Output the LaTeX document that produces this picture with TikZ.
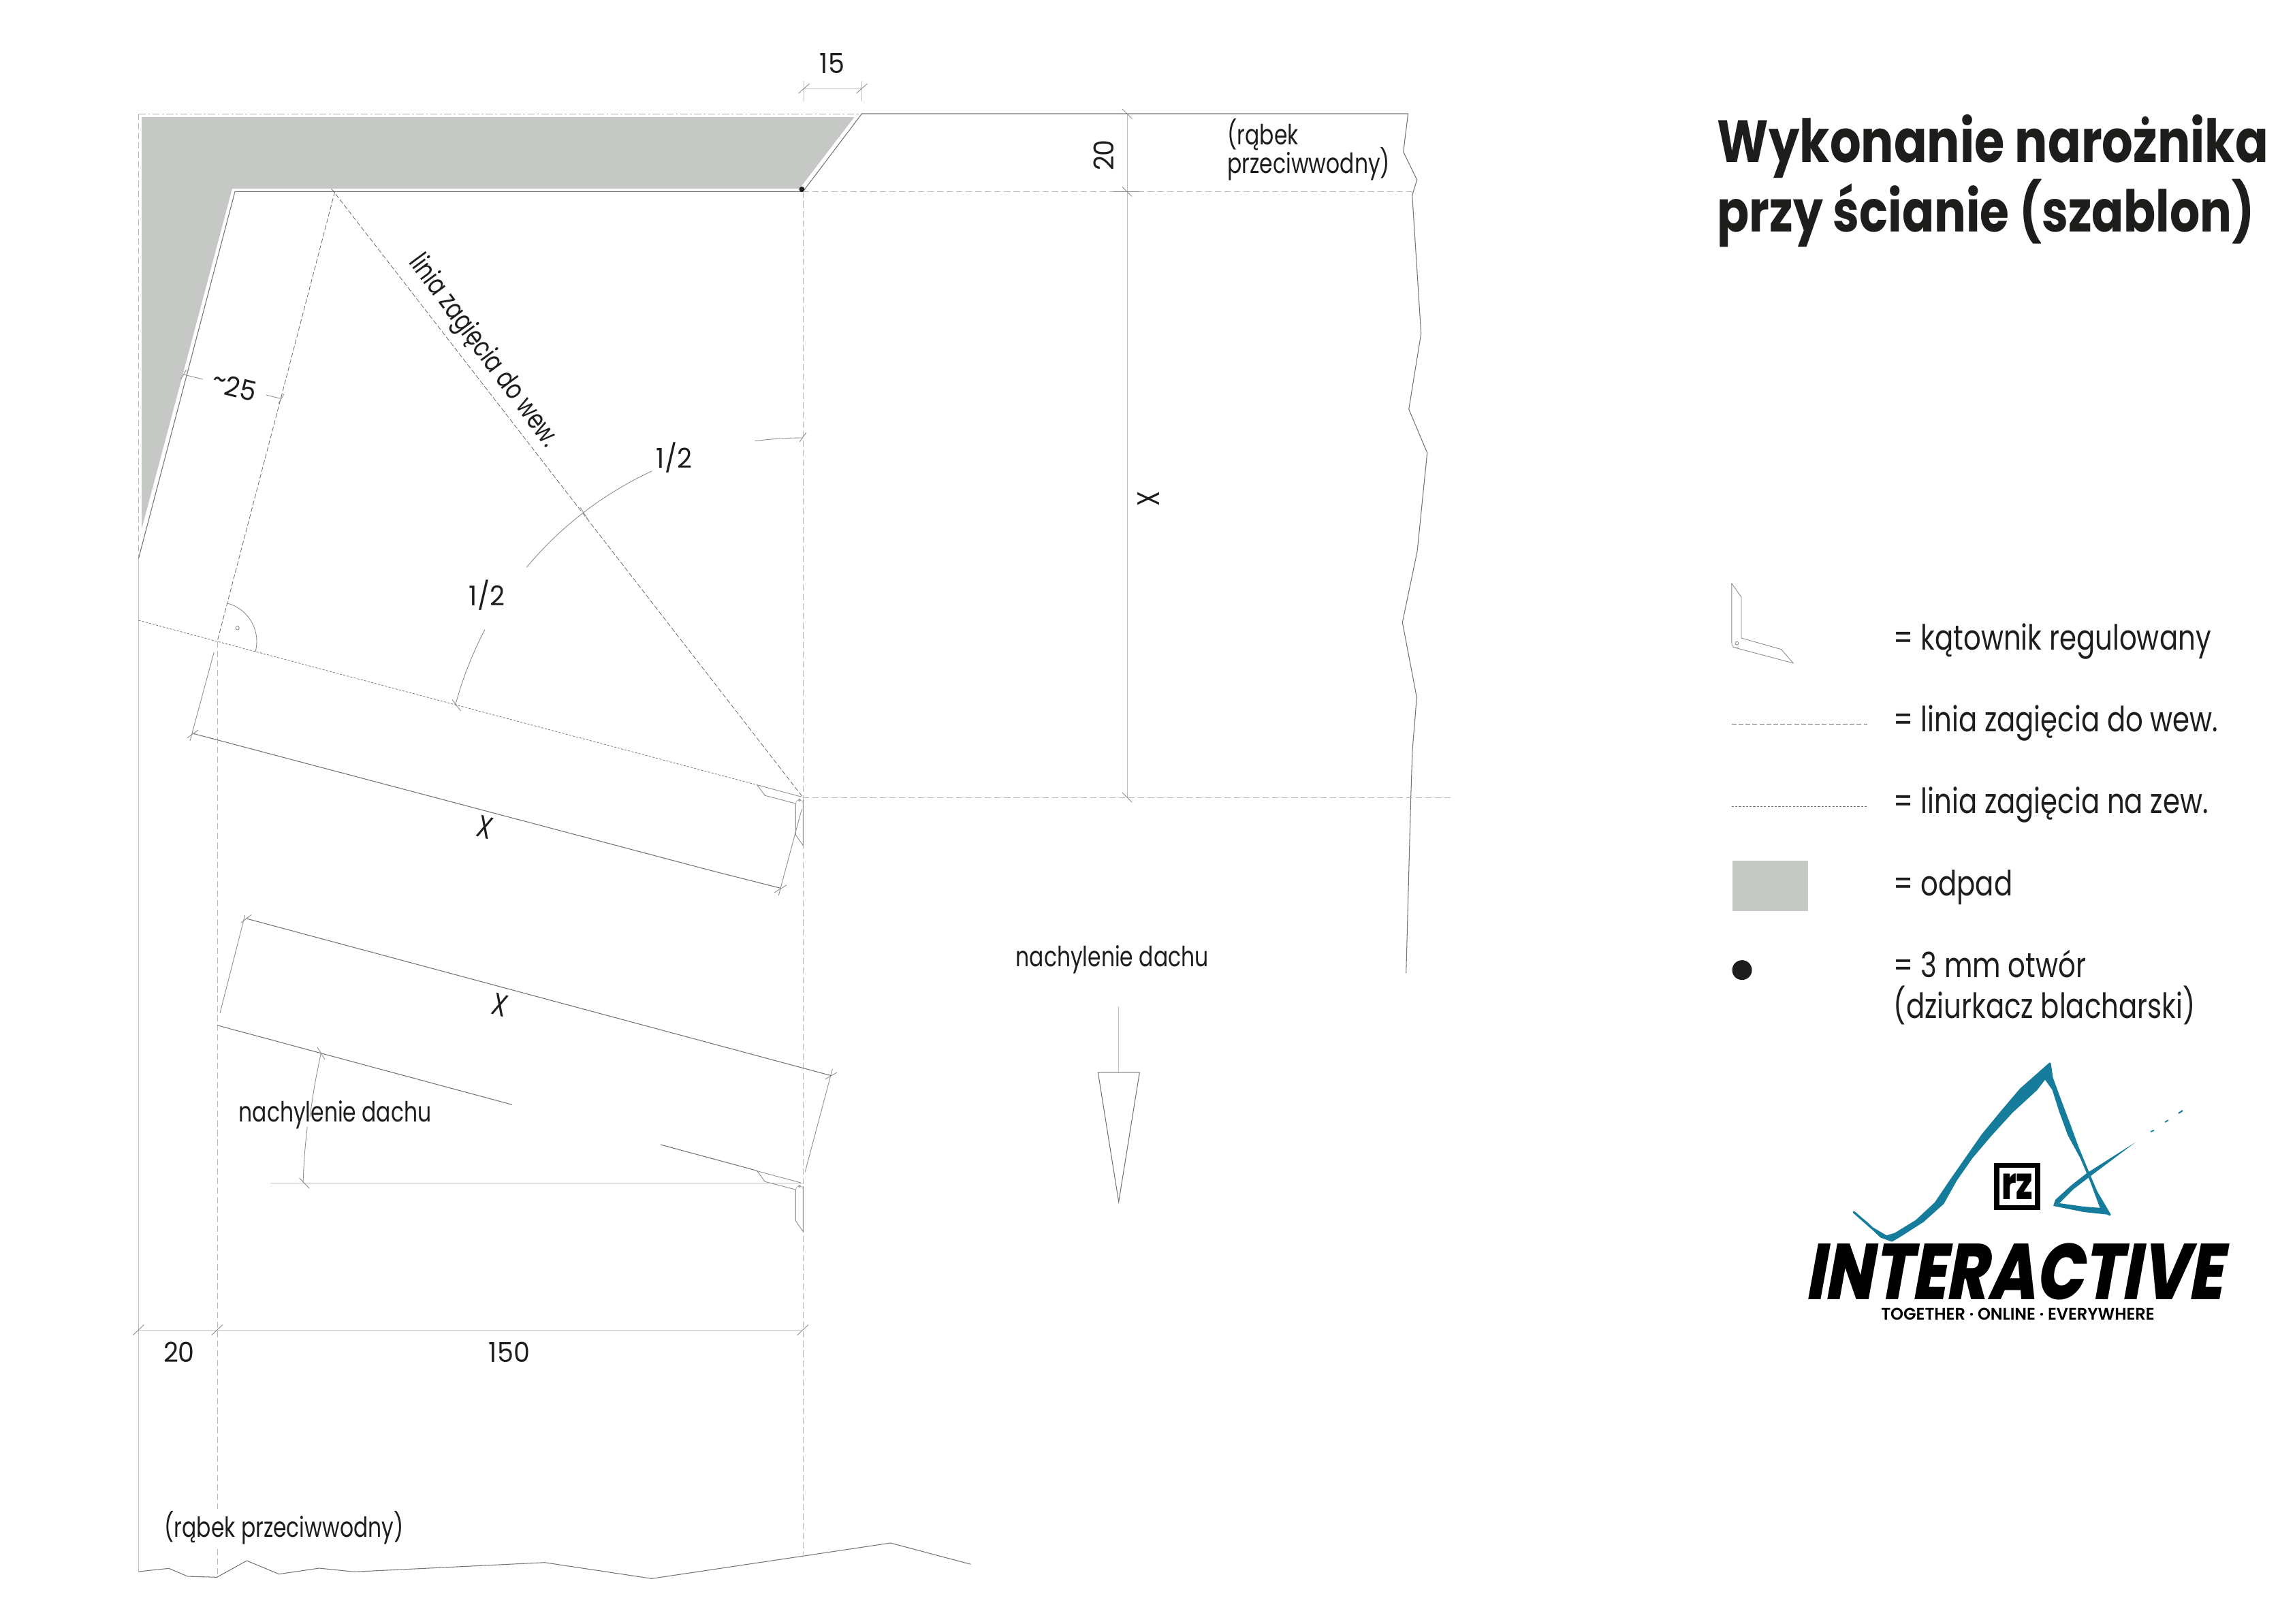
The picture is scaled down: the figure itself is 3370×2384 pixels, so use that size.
\documentclass[tikz,border=0pt]{standalone}
\usepackage{fontspec}
\usepackage{tikz}
\setmainfont{Poppins}
\newfontfamily\labelFont[FakeStretch=0.77]{Poppins}
\newfontfamily\legendFont[FakeStretch=0.79]{Poppins}
\newfontfamily\digitFont[FakeStretch=0.95]{Poppins}
\newfontfamily\titleFont[FakeStretch=0.82]{Poppins Bold}
\newfontfamily\logoFont[FakeStretch=0.8,FakeSlant=0.18]{Poppins ExtraBold}
\newfontfamily\boxFont[FakeStretch=0.72]{Poppins ExtraBold}
\newfontfamily\tagFont[FakeStretch=0.98]{Poppins SemiBold}
\definecolor{wasteGrey}{HTML}{C6C8C6}
\definecolor{inkBlack}{HTML}{1D1D1B}
\definecolor{logoTeal}{HTML}{167C9B}
\tikzstyle{cutLine}=[line width = 0.3pt, draw = black!55]
\tikzstyle{thinLine}=[line width = 0.25pt, draw = black!45]
\tikzstyle{paleLine}=[line width = 0.25pt, draw = black!25]
\tikzstyle{foldIn}=[line width = 0.22pt, draw = black!60, dash pattern = on 2pt off 0.9pt]
\tikzstyle{foldOut}=[line width = 0.22pt, draw = black!55, dash pattern = on 0.9pt off 0.6pt]
\tikzstyle{guideLine}=[line width = 0.22pt, draw = black!28, dash pattern = on 2.6pt off 1.4pt]
\tikzstyle{frameLine}=[line width = 0.25pt, draw = black!35, dash pattern = on 3pt off 1pt on 0.8pt off 1pt]
\tikzstyle{smallText}=[inner sep = 0pt, text = inkBlack, font = \labelFont\fontsize{11.6}{12}\selectfont]
\tikzstyle{digitText}=[inner sep = 0pt, text = inkBlack, font = \digitFont\fontsize{11.4}{12}\selectfont]
\tikzstyle{crossText}=[inner sep = 0pt, text = inkBlack, font = \labelFont\fontsize{13}{14}\selectfont]
\tikzstyle{legendText}=[inner sep = 0pt, anchor = base west, text = inkBlack, font = \legendFont\fontsize{14.5}{15}\selectfont]
\tikzstyle{titleText}=[inner sep = 0pt, anchor = base west, text = inkBlack]
\tikzstyle{logoStroke}=[fill = logoTeal, draw = logoTeal, line width = 0.9pt, line join = round]
\newcommand{\drawBevel}[2]{
\draw[thinLine] (#1,#2) ++(-62.3,-22.3) -- ++(64.3,17.3);
\draw[thinLine] (#1,#2) ++(-62.3,-22.3) -- ++(11.6,15.6) -- ++(45,11.7) -- ++(0,46) -- ++(11,15.7) -- ++(0,-66.7);
\draw[paleLine] (#1,#2) ++(-5.7,5) arc[start angle = 180, end angle = 360, radius = 5.5];
\draw[thinLine] (#1,#2) circle[radius = 1.6];
}
\begin{document}
\begin{tikzpicture}[x = 0.01cm, y = -0.01cm]
\useasboundingbox (0,0) rectangle (3370,2384);
\coordinate (c0) at (203.5,167);
\coordinate (c1) at (1265.5,167);
\coordinate (c2) at (2067.6,167);
\coordinate (c3) at (1179,281.4);
\coordinate (c4) at (345,281.4);
\coordinate (c5) at (203.5,820);
\coordinate (c6) at (491.7,281.4);
\coordinate (c7) at (319,942);
\coordinate (c8) at (1179,1171);
\coordinate (c9) at (203.5,911);
\coordinate (c10) at (203.5,2308);
\coordinate (c11) at (319,2216);
\coordinate (c12) at (319,2275);
\coordinate (c13) at (319,2316);
\coordinate (c14) at (1179,2283);
\coordinate (c15) at (2075,281.4);
\coordinate (c16) at (2130,1171);
\coordinate (d0) at (1180.6,130);
\coordinate (d1) at (1265.5,130);
\coordinate (d2) at (1655,167);
\coordinate (d3) at (1655,281.4);
\coordinate (d4) at (1655,1171);
\coordinate (d5) at (203.5,1953);
\coordinate (d6) at (319,1953);
\coordinate (d7) at (1179,1953);
\coordinate (d8) at (269.5,550);
\coordinate (d9) at (413,585.5);
\coordinate (d10) at (282.7,1077);
\coordinate (d11) at (1146,1304.3);
\coordinate (d12) at (362,1349);
\coordinate (d13) at (1220,1579.5);
\coordinate (d14) at (471.3,1546.7);
\coordinate (d15) at (445,1736.7);
\coordinate (a0) at (1642.5,1478);
\coordinate (a1) at (1642.5,1575);
\fill[wasteGrey] (208,172) -- (1254.4,172) -- (1174,277) -- (341,277) -- (208,777) -- cycle;
\draw[frameLine] (c0) -- (c1);
\draw[guideLine] (c0) -- (c5);
\draw[paleLine] (c5) -- (c10);
\draw[cutLine] (c5) -- (c4) -- (c3) -- (c1) -- (c2);
\draw[cutLine] (c2) -- (2060.7,223) -- (2080.6,264) -- (2073.7,287) -- (2086.7,490) -- (2068.7,601) -- (2095.7,665) -- (2081,810) -- (2059.3,914) -- (2080.3,1024) -- (2074,1101.5) -- (2071.7,1170) -- (2064.7,1429);
\draw[cutLine] (c10) -- (248,2303.3) -- (275.4,2315) -- (318.5,2316.3) -- (362.4,2292) -- (409.7,2311.7) -- (468.6,2303) -- (520,2308.3) -- (800,2294.7) -- (957,2318.3) -- (1307.7,2266) -- (1425.5,2297.3);
\fill[inkBlack] (1177.5,278) circle[radius = 4];
\draw[foldIn] (c6) -- (c7);
\draw[foldIn] (486.6,277) -- (c8);
\draw[foldOut] (c9) -- (c7) -- (1111.7,1152.7);
\draw[guideLine] (c7) -- (c11);
\draw[guideLine] (c12) -- (c13);
\draw[guideLine] (c3) -- (c14);
\draw[guideLine] (c3) -- (c15);
\draw[guideLine] (c8) -- (c16);
\draw[paleLine] (1180.6,119) -- (1180.6,149);
\draw[paleLine] (1265.5,119) -- (1265.5,149);
\draw[paleLine] (d0) -- (d1);
\draw[thinLine] (d0) ++(-8,7) -- ++(16,-14);
\draw[thinLine] (d1) ++(-8,7) -- ++(16,-14);
\draw[paleLine] (d2) -- (d4);
\draw[thinLine] (d2) ++(-7,-7) -- ++(14,14);
\draw[thinLine] (d3) ++(-7,-7) -- ++(14,14);
\draw[thinLine] (d4) ++(-7,-7) -- ++(14,14);
\draw[thinLine] (1635,281.4) -- (1673,281.4);
\draw[paleLine] (d5) -- (d7);
\draw[thinLine] (d5) ++(-8,7.5) -- ++(16,-15);
\draw[thinLine] (d6) ++(-8,7.5) -- ++(16,-15);
\draw[thinLine] (d7) ++(-8,7.5) -- ++(16,-15);
\draw[thinLine] (d8) -- ++(28,6.9);
\draw[thinLine] (d9) -- ++(-22,-5.4);
\draw[thinLine] (d8) ++(-4,7) -- ++(8,-14);
\draw[thinLine] (d9) ++(-4,7) -- ++(8,-14);
\draw[cutLine] (d10) -- (1050,1280) -- (d11);
\draw[thinLine] (d10) ++(-8,7) -- ++(16.5,-12);
\draw[thinLine] (d11) ++(-9,6.5) -- ++(18,-11);
\draw[thinLine] (314.2,958) -- (279,1088);
\draw[thinLine] (1177.3,1188.3) -- (1143.3,1315);
\draw[cutLine] (d12) -- (d13);
\draw[thinLine] (d12) ++(-8,6) -- ++(15.2,-11.7);
\draw[thinLine] (d13) ++(-8.5,5.5) -- ++(17.5,-10);
\draw[thinLine] (359.7,1344) -- (323,1487.8);
\draw[thinLine] (1222.3,1570) -- (1182.3,1720.7);
\draw[cutLine] (319,1505.7) -- (752,1622.3);
\draw[cutLine] (970,1681) -- (1111.7,1719.3);
\draw[paleLine] (397,1737.3) -- (1179,1737.3);
\draw[thinLine] (d14) .. controls (462,1592) .. (455,1640);
\draw[thinLine] (451.2,1655) .. controls (447,1695) .. (d15);
\draw[thinLine] (466,1538) -- (477,1555.7);
\draw[thinLine] (439.7,1730) -- (454,1745);
\draw[thinLine] (c8) ++(-97.7:528) arc[start angle = -97.7, end angle = -90, radius = 528];
\draw[thinLine] (c8) ++(-114.8:528) arc[start angle = -114.8, end angle = -140.2, radius = 528];
\draw[thinLine] (c8) ++(-152.2:528) arc[start angle = -152.2, end angle = -165.2, radius = 528];
\draw[thinLine] (1174,649) -- (1184,635);
\draw[thinLine] (852,745) -- (864,764);
\draw[thinLine] (664,1027.5) -- (676.5,1044);
\draw[thinLine] (c7) ++(-75:58) arc[start angle = -75, end angle = 15.3, radius = 58];
\draw[thinLine] (348.7,922.4) circle[radius = 2.6];
\drawBevel{1174}{1175}
\drawBevel{1174}{1742}
\draw[paleLine] (a0) -- (a1);
\draw[cutLine] (1612.3,1575) -- (1673.3,1575) -- (1642.7,1765) -- cycle;
\node[digitText, anchor = base] (t0) at (1222,107) {15};
\node[digitText, anchor = center, rotate = 90] (t1) at (1621,228) {20};
\node[smallText, anchor = base west] (t2) at (1802,212.5) {(rąbek};
\node[smallText, anchor = base west] (t3) at (1802,254) {przeciwwodny)};
\node[digitText, rotate = -14] (t4) at (344,568) {\raisebox{2pt}{\textasciitilde}25};
\node[smallText, rotate = -53.5] (t5) at (709,516) {linia zagięcia do wew.};
\node[digitText] (t6) at (990,672) {1/2};
\node[digitText] (t7) at (715,874.5) {1/2};
\node[crossText, rotate = 90] (t8) at (1687,733) {X};
\node[crossText, rotate = -15] (t9) at (712,1215) {X};
\node[crossText, rotate = -15] (t10) at (734,1476) {X};
\node[smallText, anchor = base west] (t11) at (350,1647.5) {nachylenie dachu};
\node[smallText, anchor = base west] (t12) at (1491,1419) {nachylenie dachu};
\node[digitText] (t13) at (263,1986) {20};
\node[digitText] (t14) at (748,1986) {150};
\node[smallText, anchor = base west] (t15) at (241,2257) {(rąbek przeciwwodny)};
\node[titleText, font = \titleFont\fontsize{24.9}{26}\selectfont] (h0) at (2521,238) {Wykonanie narożnika};
\node[titleText, font = \titleFont\fontsize{24.1}{26}\selectfont] (h1) at (2521,340) {przy ścianie (szablon)};
\draw[thinLine] (2542.8,944) -- (2542.8,856.8) -- (2557,877) -- (2557,937) -- (2615.7,953.7) -- (2633,973.8) -- (2545,950.5);
\draw[paleLine] (2542.8,944) arc[start angle = 180, end angle = 60, radius = 7];
\draw[paleLine] (2542.8,944) .. controls (2543,948) .. (2545,950.5);
\draw[thinLine] (2550.4,944.7) circle[radius = 2.4];
\coordinate (l0) at (2542.8,1063);
\coordinate (l1) at (2741.7,1063);
\coordinate (l2) at (2542.8,1184);
\coordinate (l3) at (2741.7,1184);
\draw[foldIn] (l0) -- (l1);
\draw[foldOut] (l2) -- (l3);
\fill[wasteGrey] (2543.8,1264) rectangle (2655,1338);
\fill[inkBlack] (2558,1424.6) circle[radius = 14.5];
\node[legendText] (k0) at (2780,954.5) {= kątownik regulowany};
\node[legendText] (k1) at (2780,1074) {= linia zagięcia do wew.};
\node[legendText] (k2) at (2780,1194.5) {= linia zagięcia na zew.};
\node[legendText] (k3) at (2780,1315) {= odpad};
\node[legendText] (k4) at (2780,1435.5) {= 3 mm otwór};
\node[legendText] (k5) at (2780,1495.5) {(dziurkacz blacharski)};
\filldraw[logoStroke] (2722,1780) -- (2748,1803) -- (2770,1816) -- (2783,1812) -- (2814,1793) -- (2842,1767) -- (2865,1733) -- (2888,1700) -- (2911,1667) -- (2939,1633) -- (2967,1600) -- (3010,1562) -- (3013,1583) -- (3025.5,1617) -- (3038,1650) -- (3050,1683) -- (3064,1717) -- (3078,1750) -- (3098,1784) -- (3086,1776) -- (3070,1733) -- (3056,1700) -- (3038,1667) -- (3025.5,1633) -- (3015,1600) -- (3003,1583) -- (2990,1600) -- (2954,1633) -- (2923,1667) -- (2895,1700) -- (2872,1733) -- (2853,1767) -- (2824,1793) -- (2793,1813) -- (2778,1822) -- (2762,1816) -- (2742,1797) -- cycle;
\fill[logoTeal] (3098,1784) -- (3060,1780) -- (3015,1771) -- (3024,1767) -- (3060,1772) -- (3086,1774) -- cycle;
\fill[logoTeal] (3015,1771) -- (3018,1762) -- (3041,1741) -- (3064,1723) -- (3135,1678) -- (3066,1730) -- (3044,1747) -- (3024,1767) -- cycle;
\draw[logoTeal, line width = 0.5pt] (3158,1662) -- (3163,1660);
\draw[logoTeal, line width = 0.5pt] (3179,1648) -- (3184,1645);
\draw[logoTeal, line width = 0.6pt] (3199,1635) -- (3205,1631);
\node[draw = black, line width = 2.2pt, inner sep = 0pt, minimum width = 0.6cm, minimum height = 0.62cm, font = \boxFont\fontsize{19}{19}\selectfont] (r0) at (2962.3,1742.5) {rz};
\node[inner sep = 0pt, anchor = base, font = \logoFont\fontsize{33}{33}\selectfont] (r1) at (2957,1908) {INTERACTIVE};
\node[inner sep = 0pt, anchor = base, font = \tagFont\fontsize{7}{7}\selectfont] (r2) at (2963,1938) {TOGETHER · ONLINE · EVERYWHERE};
\end{tikzpicture}
\end{document}
